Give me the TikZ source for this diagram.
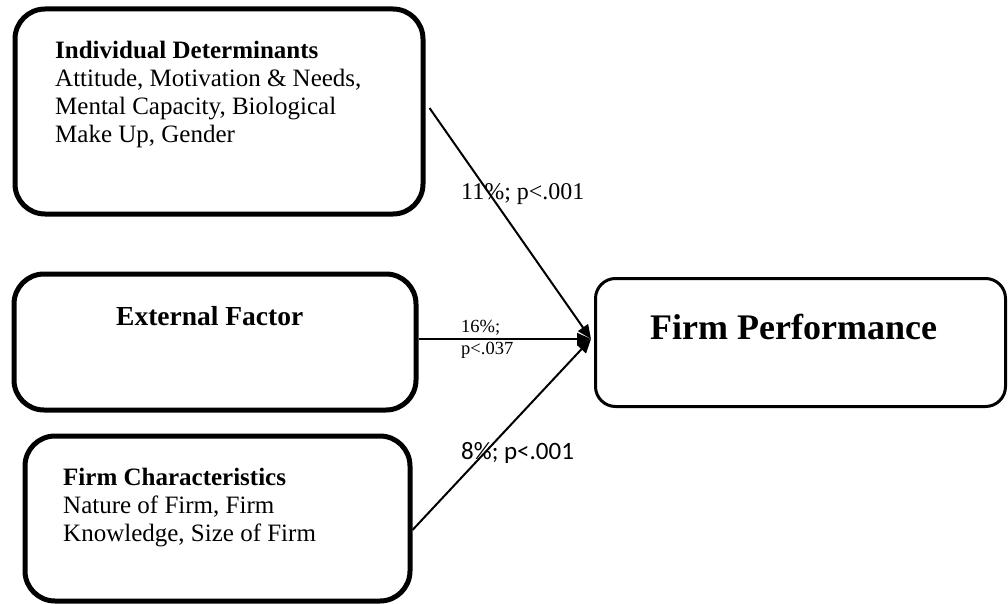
\documentclass[tikz,border=0pt]{standalone}
\usepackage{fontspec}
\setmainfont{Liberation Serif}
\newfontfamily\calib{Carlito}
\usetikzlibrary{arrows.meta}
\begin{document}
\begin{tikzpicture}[x=1pt,y=-1pt,
  thickbox/.style={draw,line width=5pt,rounded corners=30pt,inner sep=0pt},
  thinbox/.style={draw,line width=3pt,rounded corners=22pt,inner sep=0pt},
  txt/.style={anchor=base west,inner sep=0pt,font=\fontsize{25}{28}\selectfont},
  btxt/.style={anchor=base west,inner sep=0pt,font=\fontsize{25}{28}\selectfont\bfseries},
  lbl/.style={anchor=base west,inner sep=0pt},
  conn/.style={line width=2pt,-{Triangle[length=14pt,width=12pt]}}]
\useasboundingbox (0,0) rectangle (1008,604);
% boxes
\node[thickbox,minimum width=408pt,minimum height=205pt] (b1) at (219,111.5) {};
\node[thickbox,minimum width=402pt,minimum height=136pt] (b2) at (215,342) {};
\node[thickbox,minimum width=385pt,minimum height=165pt] (b3) at (217.5,518.5) {};
\node[thinbox,minimum width=410pt,minimum height=128pt,rounded corners=20pt] (b4) at (800.5,342.5) {};
% box 1 text
\node[btxt] (t11) at (55,59) {Individual Determinants};
\node[txt] (t12) at (55,87) {Attitude, Motivation \& Needs,};
\node[txt] (t13) at (55,115) {Mental Capacity, Biological};
\node[txt] (t14) at (55,143) {Make Up, Gender};
% box 2 text
\node[lbl,font=\fontsize{27.5}{30}\selectfont\bfseries] (t21) at (116,325) {External Factor};
% box 3 text
\node[btxt] (t31) at (63,485) {Firm Characteristics};
\node[txt] (t32) at (63,513) {Nature of Firm, Firm};
\node[txt] (t33) at (63,541) {Knowledge, Size of Firm};
% box 4 text
\node[lbl,font=\fontsize{36}{40}\selectfont\bfseries] (t41) at (650,339) {Firm Performance};
% connectors
\draw[conn] ([xshift=4pt,yshift=3.5pt]b1.east) -- ([xshift=-3pt,yshift=3.5pt]b4.west);
\draw[conn] ([yshift=3pt]b2.east) -- ([xshift=-3pt,yshift=3.5pt]b4.west);
\draw[conn] ([yshift=-11.5pt]b3.east) -- ([xshift=-3pt,yshift=3.5pt]b4.west);
% labels
\node[lbl,font=\fontsize{24}{28}\selectfont] (l1) at (461,199) {11\%; p<.001};
\node[lbl,font=\fontsize{18.5}{22}\selectfont] (l2a) at (461,332) {16\%;};
\node[lbl,font=\fontsize{18.5}{22}\selectfont] (l2b) at (461,354) {p<.037};
\node[lbl,font=\fontsize{25}{28}\selectfont\calib] (l3) at (461,459) {8\%; p<.001};
\end{tikzpicture}
\end{document}
